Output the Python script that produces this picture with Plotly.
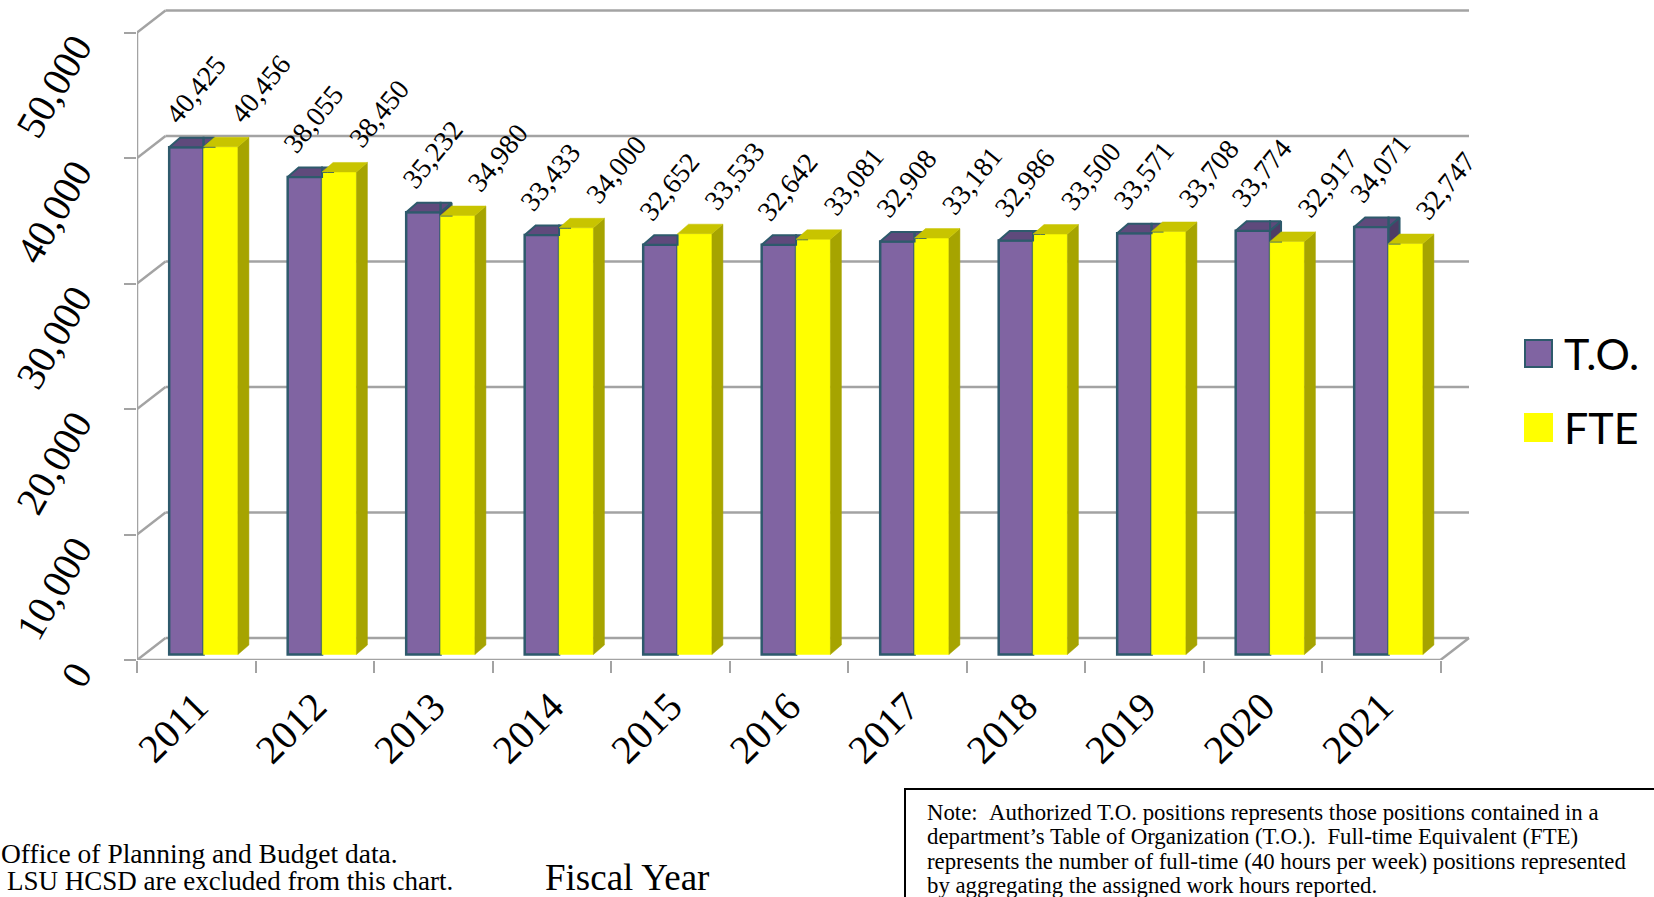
import plotly.graph_objects as go

# ---- data -------------------------------------------------------------
years = [2011, 2012, 2013, 2014, 2015, 2016, 2017, 2018, 2019, 2020, 2021]
to_positions = [40425, 38055, 35232, 33433, 32652, 32642, 32908, 32986, 33571, 33774, 34071]
fte_positions = [40456, 38450, 34980, 34000, 33533, 33081, 33181, 33500, 33708, 32917, 32747]
y_ticks = [0, 10000, 20000, 30000, 40000, 50000]
series_names = ["T.O.", "FTE"]

# ---- page geometry ----------------------------------------------------
W, H = 1654, 897
ML, MR, MT, MB = 137, 154, 0, 237
PW, PH = W - ML - MR, H - MT - MB
CAT_PX = 118.5            # pixels per category
UNIT_PX = 0.01255         # pixels per position
X_RANGE = [-0.5, -0.5 + PW / CAT_PX]
Y_RANGE = [0, PH / UNIT_PX]

# oblique depth of the floor / back wall and of each column
WALL_DX, WALL_DY = 28.5 / CAT_PX, 22 / UNIT_PX
PLANE_DX, PLANE_DY = 7.3 / CAT_PX, 5.5 / UNIT_PX      # columns sit a bit behind the front edge
BOX_DX, BOX_DY = 11 / CAT_PX, 9.5 / UNIT_PX
BARGAP = 0.42
HALF = (1 - BARGAP) / 2

SERIF = "Liberation Serif"
GRID = "#A3A3A3"
TO_FRONT, TO_TOP, TO_SIDE, TO_EDGE = "#8064A2", "#5F4A7C", "#4D3C66", "#2E5A6C"
FTE_FRONT, FTE_TOP, FTE_SIDE = "#FFFF00", "#C8C400", "#A6A400"


def px_x(px):
    return (px - ML) / PW


def px_y(py):
    return (H - MB - py) / PH


def clip_above(poly, c):
    """Keep the part of a polygon with y >= c."""
    out = []
    n = len(poly)
    for i in range(n):
        (xa, ya), (xb, yb) = poly[i], poly[(i + 1) % n]
        ina, inb = ya >= c, yb >= c
        if ina:
            out.append((xa, ya))
        if ina != inb:
            t = (c - ya) / (yb - ya)
            out.append((xa + t * (xb - xa), c))
    return out


def add_poly(store, poly):
    if len(poly) < 3:
        return
    xs, ys = store
    xs.extend([p[0] for p in poly] + [poly[0][0], None])
    ys.extend([p[1] for p in poly] + [poly[0][1], None])


fig = go.Figure()

# invisible trace that registers the category axis
fig.add_trace(go.Scatter(x=[str(y) for y in years], y=[0] * len(years), mode="markers",
                         marker=dict(opacity=0), showlegend=False, hoverinfo="skip",
                         xaxis="x", yaxis="y"))

# front faces of the columns
fig.add_trace(go.Bar(x=years, y=to_positions, name=series_names[0], xaxis="x2", yaxis="y2",
                     marker=dict(color=TO_FRONT, line=dict(color=TO_EDGE, width=2.5)),
                     showlegend=False))
fig.add_trace(go.Bar(x=years, y=fte_positions, name=series_names[1], xaxis="x2", yaxis="y2",
                     marker=dict(color=FTE_FRONT, line=dict(color=FTE_FRONT, width=0.5)),
                     showlegend=False))

# top and side faces
to_top, to_side = ([], []), ([], [])
fte_top, fte_side = ([], []), ([], [])
for yr, v, f in zip(years, to_positions, fte_positions):
    x0, x1, x2 = yr - HALF, yr, yr + HALF
    # T.O. box (partly hidden by the FTE box on its right)
    add_poly(to_top, [(x0, v), (x1, v), (x1, v + BOX_DY), (x0 + BOX_DX, v + BOX_DY)])
    add_poly(to_top, clip_above([(x1, v), (x1 + BOX_DX, v + BOX_DY), (x1, v + BOX_DY)], f))
    add_poly(to_side, clip_above([(x1, 0), (x1, v), (x1 + BOX_DX, v + BOX_DY), (x1 + BOX_DX, BOX_DY)], f))
    # FTE box
    add_poly(fte_side, [(x2, 0), (x2, f), (x2 + BOX_DX, f + BOX_DY), (x2 + BOX_DX, BOX_DY)])
    add_poly(fte_top, [(x1, f), (x2, f), (x2 + BOX_DX, f + BOX_DY), (x1 + BOX_DX, f + BOX_DY)])

for store, fill, edge, w in [(to_side, TO_SIDE, TO_EDGE, 2), (to_top, TO_TOP, TO_EDGE, 2),
                             (fte_side, FTE_SIDE, FTE_SIDE, 0.5), (fte_top, FTE_TOP, FTE_TOP, 0.5)]:
    fig.add_trace(go.Scatter(x=store[0], y=store[1], mode="lines", fill="toself",
                             fillcolor=fill, line=dict(color=edge, width=w),
                             xaxis="x2", yaxis="y2", showlegend=False, hoverinfo="skip"))

# ---- floor and back wall ----------------------------------------------
shapes = []
x_lo, x_hi = -0.5, len(years) - 0.5


def seg(xa, ya, xb, yb):
    shapes.append(dict(type="line", xref="x", yref="y", x0=xa, y0=ya, x1=xb, y1=yb,
                       line=dict(color=GRID, width=2.5), layer="below"))


for g in y_ticks:
    seg(x_lo, g, x_lo + WALL_DX, g + WALL_DY)
    seg(x_lo + WALL_DX, g + WALL_DY, x_hi + WALL_DX, g + WALL_DY)
seg(x_lo, 0, x_hi, 0)
seg(x_hi, 0, x_hi + WALL_DX, WALL_DY)
seg(x_lo, 0, x_lo, y_ticks[-1])

# ---- value labels -------------------------------------------------------
annotations = []
for vals, dx, shift in [(to_positions, -HALF / 2, 9), (fte_positions, HALF / 2, 40)]:
    for yr, v in zip(years, vals):
        annotations.append(dict(x=yr + dx, y=v, xref="x2", yref="y2", text=f"{v:,}",
                                showarrow=False, textangle=-51, xanchor="center",
                                yanchor="middle", xshift=shift, yshift=58,
                                font=dict(family=SERIF, size=28, color="black")))

# ---- legend ------------------------------------------------------------
for name, color, edge, cy in [(series_names[0], TO_FRONT, TO_EDGE, 353.5),
                              (series_names[1], FTE_FRONT, FTE_FRONT, 427.5)]:
    shapes.append(dict(type="rect", xref="paper", yref="paper",
                       x0=px_x(1525), x1=px_x(1552), y0=px_y(cy + 13.5), y1=px_y(cy - 13.5),
                       fillcolor=color, line=dict(color=edge, width=2)))
    annotations.append(dict(x=px_x(1562), y=px_y(cy), xref="paper", yref="paper", text=name,
                            showarrow=False, xanchor="left", yanchor="middle",
                            font=dict(family="Lato", size=43, color="black")))

# ---- footnotes -----------------------------------------------------------
annotations.append(dict(x=px_x(-1), y=px_y(853), xref="paper", yref="paper",
                        text="Office of Planning and Budget data.", showarrow=False,
                        xanchor="left", yanchor="middle",
                        font=dict(family=SERIF, size=27.5, color="black")))
annotations.append(dict(x=px_x(5), y=px_y(881), xref="paper", yref="paper",
                        text="LSU HCSD are excluded from this chart.", showarrow=False,
                        xanchor="left", yanchor="middle",
                        font=dict(family=SERIF, size=27, color="black")))
annotations.append(dict(x=px_x(627), y=px_y(877), xref="paper", yref="paper",
                        text="Fiscal Year", showarrow=False, xanchor="center", yanchor="middle",
                        font=dict(family=SERIF, size=37, color="black")))

shapes.append(dict(type="rect", xref="paper", yref="paper",
                   x0=px_x(905), x1=px_x(1700), y0=px_y(960), y1=px_y(789),
                   line=dict(color="black", width=2), fillcolor="rgba(0,0,0,0)"))
note_lines = [
    "Note:\u00a0\u00a0Authorized T.O. positions represents those positions contained in a",
    "department\u2019s Table of Organization (T.O.).\u00a0\u00a0Full-time Equivalent (FTE)",
    "represents the number of full-time (40 hours per week) positions represented",
    "by aggregating the assigned work hours reported.",
]
for i, line in enumerate(note_lines):
    annotations.append(dict(x=px_x(925), y=px_y(812 + 24.6 * i), xref="paper", yref="paper",
                            text=line, showarrow=False, xanchor="left", yanchor="middle",
                            font=dict(family=SERIF, size=22.8, color="black")))

fig.update_layout(
    width=W, height=H,
    margin=dict(l=ML, r=MR, t=MT, b=MB, pad=0),
    paper_bgcolor="white", plot_bgcolor="white",
    barmode="group", bargap=BARGAP, bargroupgap=0,
    showlegend=False,
    xaxis=dict(type="category", range=X_RANGE, tickson="boundaries", ticks="outside",
               ticklen=12, tickwidth=2, tickcolor=GRID, showline=False, showgrid=False,
               zeroline=False, tickangle=-45, ticklabelstandoff=14,
               tickfont=dict(family=SERIF, size=40, color="black")),
    yaxis=dict(range=Y_RANGE, tickvals=y_ticks, tickformat=",", ticks="outside",
               ticklen=12, tickwidth=2, tickcolor=GRID, showline=False, showgrid=False,
               zeroline=False, tickangle=-60, ticklabelstandoff=40, ticklabelshift=9,
               tickfont=dict(family=SERIF, size=40, color="black")),
    xaxis2=dict(overlaying="x", anchor="y2", visible=False,
                range=[years[0] + X_RANGE[0] - PLANE_DX, years[0] + X_RANGE[1] - PLANE_DX]),
    yaxis2=dict(overlaying="y", anchor="x2", visible=False,
                range=[Y_RANGE[0] - PLANE_DY, Y_RANGE[1] - PLANE_DY]),
    shapes=shapes,
    annotations=annotations,
)

fig.write_html("out.html")
